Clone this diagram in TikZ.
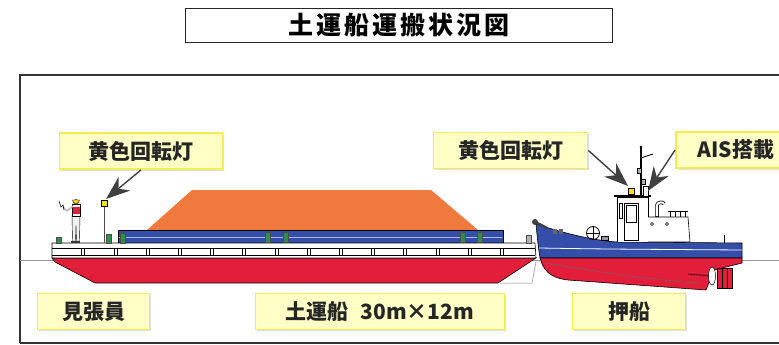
\documentclass[tikz,border=0pt]{standalone}
\usepackage{fontspec}
\usepackage{xcolor}
\usetikzlibrary{arrows.meta}
\usetikzlibrary{shadows}

\newfontfamily\jpfont{Noto Sans CJK JP}
\newfontfamily\jptitle[LetterSpace=12]{Noto Sans CJK JP}

\definecolor{soil}{RGB}{240,122,62}
\definecolor{hullred}{RGB}{226,30,58}
\definecolor{hullblue}{RGB}{52,78,170}
\definecolor{bollard}{RGB}{50,140,80}
\definecolor{lamp}{RGB}{255,226,0}
\definecolor{tagfill}{RGB}{255,255,198}
\definecolor{tagedge}{RGB}{242,236,80}

\tikzset{
	tag/.style={draw=tagedge, line width=1.8pt, fill=tagfill, minimum height=36pt, inner sep=0pt,
		font=\jpfont\bfseries\fontsize{21}{21}\selectfont, text=black!85,
		drop shadow={shadow xshift=1.5pt, shadow yshift=-1.5pt, opacity=0.25}},
	pointer/.style={-{Stealth[length=24pt,width=18pt]}, line width=1.4pt, draw=black!75},
	bitt/.style={fill=bollard, draw=black!70, line width=0.4pt}
}

\begin{document}
\begin{tikzpicture}[x=1pt, y=-1pt]
	\useasboundingbox (0,0) rectangle (779,345);

	% title
	\node[draw=black!85, line width=1.5pt, minimum width=427pt, minimum height=34pt, inner sep=0pt] (title) at (399,25.5)
		{\jptitle\bfseries\fontsize{25}{25}\selectfont 土運船運搬状況図};

	% frame
	\draw[line width=1.8pt, black!80] (20,343) -- (20,75) -- (800,75);
	\draw[line width=1.8pt, black!80] (20,343) -- (800,343);

	% water line
	\draw[black!40, line width=0.6pt] (20,260) -- (779,260);


	% barge: soil load and container
	\fill[soil] (147,230) -- (192,190) -- (431,190) -- (478,230) -- cycle;
	\draw[fill=hullblue, line width=0.6pt] (118,230) rectangle (503,243);
	\draw[white!60!hullblue, line width=0.8pt] (119,237) -- (502,237);

	% barge hull
	\draw[black!50, fill=white, line width=0.5pt] (500,283) -- (532,283) -- (536,262);
	\draw[fill=hullred, line width=0.6pt] (52,258) -- (55,262) -- (95,283) -- (498,283) -- (536,258) -- cycle;
	\draw[fill=white, line width=0.6pt] (52,243) -- (535,243) -- (536,258) -- (52,258) -- cycle;
	\draw[line width=0.5pt] (52,248) -- (535,248);
	\draw[line width=0.5pt] (52,255) -- (535,255);
	\foreach \k in {0,...,13} {
		\draw[line width=0.4pt] ({83+32.2*\k-1.5},248) -- ++(0,7);
		\draw[line width=0.4pt] ({83+32.2*\k+1.5},248) -- ++(0,7);
	}

	% bollards
	\foreach \x in {268,286,463,480} {
		\draw[bitt] (\x-2.5,232) rectangle (\x+2.5,242);
	}
	\draw[bitt] (56.5,237) rectangle (61.5,243);
	\draw[bitt] (106.5,234) rectangle (111.5,243);
	\draw[bitt] (120.5,233) rectangle (125.5,243);
	\draw[fill=black!30, draw=black!70, line width=0.4pt] (526.5,235) rectangle (531.5,243);

	% lookout
	\fill[black!80] (71,241) rectangle (80,243);
	\draw[fill=gray!10, line width=0.4pt] (72,215) -- (80,215) -- (79.5,241) -- (76.5,241) -- (76,225) -- (75.5,241) -- (72.5,241) -- cycle;
	\draw[fill=gray!10, line width=0.4pt] (72,204) rectangle (80,216);
	\fill[hullred] (73,207) rectangle (79.5,214);
	\draw[line width=1.6pt, gray!50] (73,206) -- (67,211) -- (63,207);
	\draw[line width=0.6pt] (59,201) -- (61,207) -- (63,205) -- (64,210);
	\draw[fill=orange!20, line width=0.4pt] (76,202) circle (2.5);
	\draw[fill=lamp, line width=0.4pt] (72.5,200) arc (180:0:3.5) -- cycle;

	% rotating lamp on barge
	\draw[line width=1pt, black!70] (104,206) -- (104,243);
	\draw[fill=lamp, line width=0.4pt] (101,200) rectangle (107,206);
	\coordinate (lightA) at (106,199);


	% pusher: hull
	\draw[fill=hullblue, line width=0.6pt] (536,224) .. controls (560,232) and (590,240) .. (617,242) -- (742,243) -- (742,258) -- (540,258) .. controls (538,245) .. (536,224) -- cycle;
	\draw[fill=hullred, line width=0.6pt] (540,258) -- (742,258) -- (742,263) -- (714,270) -- (706,290) -- (568,280) .. controls (550,278) and (543,270) .. (540,258) -- cycle;
	\draw[white, line width=0.8pt] (539,248) .. controls (600,249) .. (742,250);
	\draw[black!60, line width=0.5pt] (545,263) .. controls (600,272) and (650,280) .. (700,283);
	\draw[black!75, line width=2.5pt] (535,222) -- (547,228);
	\fill[black!75] (535,222) circle (3);

	% pusher: stern gear
	\draw[line width=0.6pt] (688,274) -- (712,276);
	\draw[fill=white, line width=0.5pt] (712,276) ellipse (3.5 and 9);
	\draw[fill=hullred, line width=0.5pt] (717,268) rectangle (732,288);
	\draw[line width=0.4pt] (722,268) -- (722,288);
	\draw[line width=0.4pt] (727,268) -- (727,288);
	\draw[line width=1pt] (724,235) -- (724,243);

	% pusher: deck fittings
	\fill[black!60] (553,229) rectangle (557,234);
	\fill[black!60] (559,229) rectangle (563,234);
	\draw[line width=0.8pt] (593,233) circle (6.5);
	\draw[line width=0.5pt] (586.5,233) -- (599.5,233);
	\draw[line width=0.5pt] (593,226.5) -- (593,239.5);
	\draw[fill=black!40, line width=0.4pt] (601,236) rectangle (608,240);

	% pusher: wheelhouse
	\draw[fill=white, line width=0.6pt] (617,242) -- (617,197) -- (648,197) -- (648,242);
	\draw[line width=1.2pt] (614,196) -- (651,196);
	\draw[line width=0.5pt] (624,203) rectangle (638,240);
	\draw[line width=0.5pt] (626,205) rectangle (636,222);
	\draw[line width=0.5pt] (619,203) rectangle (622,218);
	\draw[fill=white, line width=0.6pt] (648,217) -- (688,217) -- (690,242) -- (648,242);
	\draw[line width=0.5pt] (652,224) circle (1.5);
	\draw[line width=0.5pt] (667,224) circle (1.5);
	\draw[line width=3.5pt] (657,217) -- (657,205) to[out=90, in=90] (664,204);
	\draw[white, line width=2pt] (657,216) -- (657,205) to[out=90, in=90] (664,204);
	\draw[line width=0.5pt] (668,211) -- (688,211);
	\foreach \x in {670,675,680,685} {
		\draw[line width=0.5pt] (\x,211) -- (\x,217);
	}

	% pusher: mast, lamp and antenna
	\draw[line width=1.2pt] (641,147) -- (641,196);
	\draw[line width=0.8pt] (641,158) -- (653,154);
	\fill (641,147) circle (1.3);
	\draw[fill=black!30, line width=0.4pt] (637,168) rectangle (641,173);
	\draw[fill=black!30, line width=0.4pt] (641,179) rectangle (645,184);
	\draw[fill=white, line width=0.4pt] (643,186) rectangle (648,196);
	\draw[fill=lamp, line width=0.4pt] (628,188) rectangle (634,194);
	\coordinate (lightB) at (628,186);
	\coordinate (aisant) at (648,191);


	% labels
	\node[tag, minimum width=163pt] (lampA) at (141,151) {黄色回転灯};
	\node[tag, minimum width=154pt] (lampB) at (510.5,150.5) {黄色回転灯};
	\node[tag, minimum width=120pt] (ais) at (736,150) {AIS搭載};
	\node[tag, minimum width=112pt] (watch) at (93.5,311.5) {見張員};
	\node[tag, minimum width=249pt] (barge) at (380,311.5) {土運船\hspace{12pt}30m×12m};
	\node[tag, minimum width=113pt] (pusher) at (629,311.5) {押船};

	% arrows
	\draw[pointer] (lampA.south) -- (lightA);
	\draw[pointer] (lampB.east) -- (lightB);
	\draw[pointer] (ais.west) -- (aisant);
\end{tikzpicture}
\end{document}
